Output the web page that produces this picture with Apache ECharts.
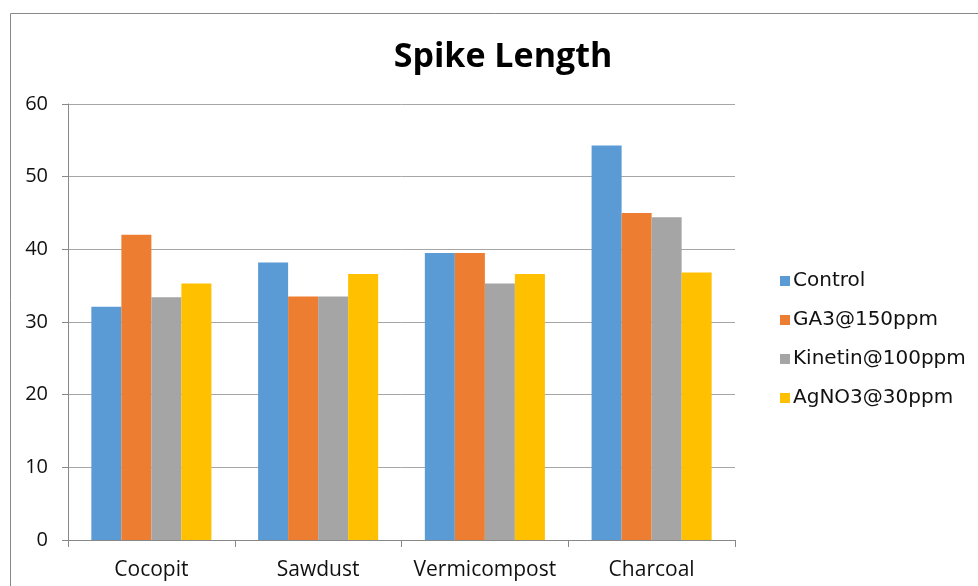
<!DOCTYPE html>
<html><head><meta charset="utf-8">
<script src="https://cdn.jsdelivr.net/npm/echarts@6/dist/echarts.min.js"></script>
<style>html,body{margin:0;padding:0;background:#fff}#c{width:978px;height:586px}</style>
</head><body><div id="c"></div>
<script>
const categories = ['Cocopit', 'Sawdust', 'Vermicompost', 'Charcoal'];
const seriesNames = ['Control', 'GA3@150ppm', 'Kinetin@100ppm', 'AgNO3@30ppm'];
const control = [32.1, 38.2, 39.5, 54.3];
const ga3 = [42.0, 33.5, 39.5, 45.0];
const kinetin = [33.4, 33.5, 35.3, 44.4];
const agno3 = [35.3, 36.6, 36.6, 36.8];
const yTicks = [0, 10, 20, 30, 40, 50, 60];
const colors = ['#5b9bd5', '#ed7d31', '#a5a5a5', '#ffc000'];
const values = [control, ga3, kinetin, agno3];

const chart = echarts.init(document.getElementById('c'));
chart.setOption({
  animation: false,
  color: colors,
  title: {
    text: 'Spike Length', left: 498, top: 35, textAlign: 'center',
    textStyle: {fontFamily: 'Open Sans', fontWeight: 'bold', fontSize: 34, color: '#000'}
  },
  graphic: [{type: 'rect', shape: {x: 10.5, y: 13.5, width: 980, height: 600},
    style: {fill: 'none', stroke: '#888', lineWidth: 1}, silent: true}],
  grid: {left: 68, right: 243, top: 104, bottom: 46},
  legend: {
    orient: 'vertical', left: 775, top: 266, itemWidth: 10, itemHeight: 10, itemGap: 19,
    icon: 'rect', data: seriesNames,
    textStyle: {fontFamily: 'DejaVu Sans', fontSize: 20, color: '#111', padding: [0, 0, 0, -2]}
  },
  xAxis: {
    type: 'category', data: categories,
    axisLine: {lineStyle: {color: '#888'}},
    axisTick: {show: true, interval: 0, length: 7, lineStyle: {color: '#888'}},
    axisLabel: {interval: 0, fontFamily: 'Open Sans', fontSize: 21, color: '#111', margin: 20}
  },
  yAxis: {
    type: 'value', min: yTicks[0], max: yTicks[yTicks.length - 1], interval: 10,
    axisLine: {show: true, lineStyle: {color: '#888'}},
    axisTick: {show: true, length: 6, lineStyle: {color: '#888'}},
    axisLabel: {fontFamily: 'Open Sans', fontSize: 20, color: '#111', margin: 20},
    splitLine: {lineStyle: {color: '#a6a6a6'}}
  },
  series: seriesNames.map((n, i) => ({
    name: n, type: 'bar', data: values[i], barGap: '0%', barCategoryGap: '28%',
    itemStyle: {color: colors[i]}
  }))
});
</script></body></html>
